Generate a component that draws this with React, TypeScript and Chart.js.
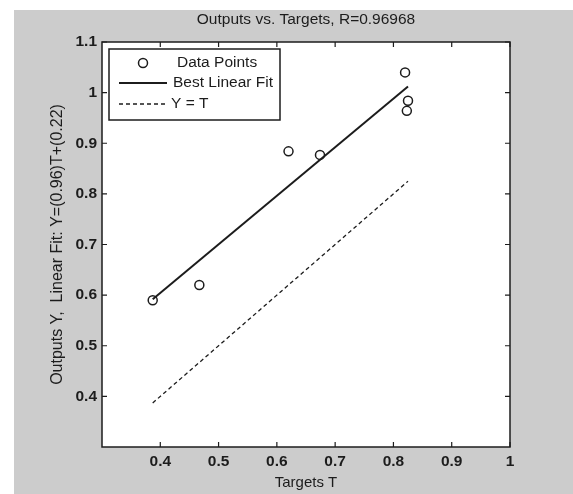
import React, { useEffect, useRef } from 'react';
import { Chart, registerables } from 'chart.js';

Chart.register(...registerables);

const chartTitle = 'Outputs vs. Targets, R=0.96968';
const xAxisTitle = 'Targets T';
const yAxisTitle = 'Outputs Y,  Linear Fit: Y=(0.96)T+(0.22)';
const seriesNames = ['Data Points', 'Best Linear Fit', 'Y = T'];

const targets = [0.387, 0.467, 0.62, 0.674, 0.82, 0.825, 0.823];
const outputs = [0.59, 0.62, 0.884, 0.877, 1.04, 0.984, 0.964];
const fitT = [0.387, 0.825];
const fitY = [0.592, 1.012];
const identT = [0.387, 0.825];
const identY = [0.387, 0.825];

const xTickValues = [0.4, 0.5, 0.6, 0.7, 0.8, 0.9, 1];
const xTickLabels = ['0.4', '0.5', '0.6', '0.7', '0.8', '0.9', '1'];
const yTickValues = [0.4, 0.5, 0.6, 0.7, 0.8, 0.9, 1, 1.1];
const yTickLabels = ['0.4', '0.5', '0.6', '0.7', '0.8', '0.9', '1', '1.1'];

const INK = '#1c1c1c';
const FIG_BG = '#cccccc';
const FONT = "'Liberation Sans', Arial, sans-serif";

const figurePlugin = {
  id: 'figureBg',
  beforeDraw(chart: any) {
    const { ctx, width, height, chartArea } = chart;
    ctx.save();
    ctx.fillStyle = '#ffffff';
    ctx.fillRect(0, 0, width, height);
    ctx.fillStyle = FIG_BG;
    ctx.fillRect(14, 10, width - 14, height - 10);
    ctx.fillStyle = '#ffffff';
    ctx.fillRect(chartArea.left, chartArea.top, chartArea.right - chartArea.left, chartArea.bottom - chartArea.top);
    ctx.restore();
  },
  afterDraw(chart: any) {
    const { ctx, chartArea } = chart;
    const { left, right, top, bottom } = chartArea;
    const xs = chart.scales.x;
    const ys = chart.scales.y;
    ctx.save();
    ctx.strokeStyle = INK;
    ctx.lineWidth = 1.5;
    ctx.strokeRect(left, top, right - left, bottom - top);
    ctx.lineWidth = 1.2;
    const tl = 5;
    ctx.beginPath();
    xTickValues.forEach((v) => {
      const px = xs.getPixelForValue(v);
      ctx.moveTo(px, bottom);
      ctx.lineTo(px, bottom - tl);
      ctx.moveTo(px, top);
      ctx.lineTo(px, top + tl);
    });
    yTickValues.forEach((v) => {
      const py = ys.getPixelForValue(v);
      ctx.moveTo(left, py);
      ctx.lineTo(left + tl, py);
      ctx.moveTo(right, py);
      ctx.lineTo(right - tl, py);
    });
    ctx.stroke();

    // legend box
    const bx = left + 7;
    const by = top + 7;
    const bw = 171;
    const bh = 71;
    ctx.fillStyle = '#ffffff';
    ctx.fillRect(bx, by, bw, bh);
    ctx.lineWidth = 1.5;
    ctx.strokeRect(bx, by, bw, bh);
    ctx.font = `15.5px ${FONT}`;
    ctx.fillStyle = INK;
    ctx.textBaseline = 'middle';
    ctx.textAlign = 'left';
    ctx.lineWidth = 1.5;
    ctx.beginPath();
    ctx.arc(bx + 34, by + 14, 4.5, 0, Math.PI * 2);
    ctx.stroke();
    ctx.fillText(seriesNames[0], bx + 68, by + 14);
    ctx.lineWidth = 2;
    ctx.beginPath();
    ctx.moveTo(bx + 10, by + 34);
    ctx.lineTo(bx + 58, by + 34);
    ctx.stroke();
    ctx.fillText(seriesNames[1], bx + 64, by + 34);
    ctx.lineWidth = 1.3;
    ctx.setLineDash([4, 3]);
    ctx.beginPath();
    ctx.moveTo(bx + 10, by + 55);
    ctx.lineTo(bx + 58, by + 55);
    ctx.stroke();
    ctx.setLineDash([]);
    ctx.fillText(seriesNames[2], bx + 62, by + 55);
    ctx.restore();
  },
};

export default function App() {
  const ref = useRef<HTMLCanvasElement | null>(null);

  useEffect(() => {
    document.body.style.margin = '0';
    const canvas = ref.current;
    if (!canvas) return;
    const chart = new Chart(canvas, {
      type: 'scatter',
      data: {
        datasets: [
          {
            label: seriesNames[0],
            data: targets.map((t, i) => ({ x: t, y: outputs[i] })),
            showLine: false,
            pointRadius: 4.5,
            pointBorderWidth: 1.5,
            pointBorderColor: INK,
            pointBackgroundColor: 'rgba(0,0,0,0)',
            pointHoverRadius: 4.5,
          },
          {
            label: seriesNames[1],
            data: fitT.map((t, i) => ({ x: t, y: fitY[i] })),
            showLine: true,
            borderColor: INK,
            borderWidth: 2,
            pointRadius: 0,
          },
          {
            label: seriesNames[2],
            data: identT.map((t, i) => ({ x: t, y: identY[i] })),
            showLine: true,
            borderColor: INK,
            borderWidth: 1.3,
            borderDash: [4, 3],
            pointRadius: 0,
          },
        ],
      },
      options: {
        responsive: false,
        animation: false,
        devicePixelRatio: 1,
        layout: { padding: { left: 0, right: 63, top: 0, bottom: 0 } },
        plugins: {
          legend: { display: false },
          tooltip: { enabled: false },
          title: {
            display: true,
            text: chartTitle,
            fullSize: false,
            color: INK,
            font: { family: FONT, size: 15.5, weight: 'normal', lineHeight: 1.2 },
            padding: { top: 10, bottom: 13.4 },
          },
        },
        scales: {
          x: {
            type: 'linear',
            min: 0.3,
            max: 1,
            afterFit: (s: any) => { s.height = 47; },
            afterBuildTicks: (s: any) => { s.ticks = xTickValues.map((v) => ({ value: v })); },
            grid: { display: false, drawTicks: false },
            border: { display: false },
            ticks: {
              color: INK,
              padding: 5,
              maxRotation: 0,
              autoSkip: false,
              font: { family: FONT, size: 15.5, weight: 'bold' },
              callback: (_v: any, i: number) => xTickLabels[i],
            },
            title: {
              display: true,
              text: xAxisTitle,
              color: INK,
              font: { family: FONT, size: 15, weight: 'normal', lineHeight: 1.2 },
              padding: { top: 0, bottom: 2 },
            },
          },
          y: {
            type: 'linear',
            min: 0.3,
            max: 1.1,
            afterFit: (s: any) => { s.width = 102; },
            afterBuildTicks: (s: any) => { s.ticks = yTickValues.map((v) => ({ value: v })); },
            grid: { display: false, drawTicks: false },
            border: { display: false },
            ticks: {
              color: INK,
              padding: 5,
              autoSkip: false,
              font: { family: FONT, size: 15.5, weight: 'bold' },
              callback: (_v: any, i: number) => yTickLabels[i],
            },
            title: {
              display: true,
              text: yAxisTitle,
              color: INK,
              font: { family: FONT, size: 16, weight: 'normal', lineHeight: 1.2 },
              padding: { top: 48, bottom: 0 },
            },
          },
        },
      },
      plugins: [figurePlugin],
    });
    return () => chart.destroy();
  }, []);

  return (
    <div style={{ width: 573, height: 494 }}>
      <canvas ref={ref} width={573} height={494} />
    </div>
  );
}
